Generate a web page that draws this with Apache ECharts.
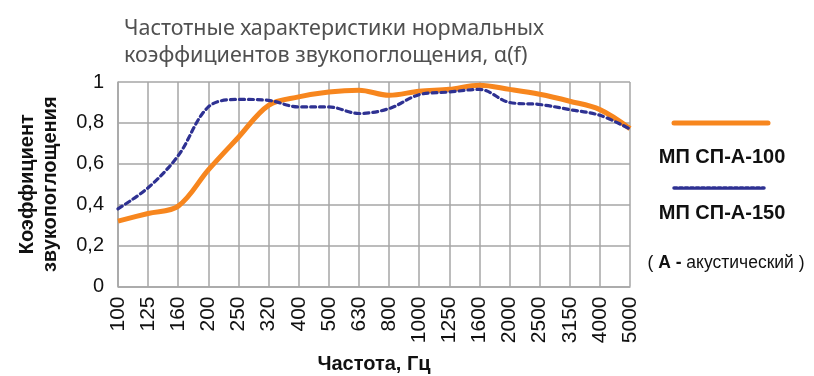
<!DOCTYPE html>
<html>
<head>
<meta charset="utf-8">
<script src="https://cdn.jsdelivr.net/npm/echarts@6/dist/echarts.min.js"></script>
<style>
  html, body { margin: 0; padding: 0; background: #fff; }
  #chart { width: 814px; height: 376px; }
</style>
</head>
<body>
<div id="chart"></div>
<script>
// Frequency bands, Hz
const frequencies = ['100', '125', '160', '200', '250', '320', '400', '500', '630',
  '800', '1000', '1250', '1600', '2000', '2500', '3150', '4000', '5000'];

// Normal sound absorption coefficients
const mpSpA100 = [0.32, 0.357, 0.393, 0.57, 0.73, 0.886, 0.927, 0.951, 0.96,
  0.935, 0.955, 0.964, 0.984, 0.964, 0.94, 0.906, 0.865, 0.772];
const mpSpA150 = [0.38, 0.483, 0.64, 0.878, 0.915, 0.91, 0.878, 0.878, 0.846,
  0.87, 0.938, 0.951, 0.964, 0.9, 0.89, 0.865, 0.837, 0.77];

const yTicks = [0, 0.2, 0.4, 0.6, 0.8, 1];

const ORANGE = '#F7861E';
const NAVY = '#2E3192';
const GRID = '#A6A6A6';
const LABEL_FONT = '"Liberation Sans", Arial, sans-serif';

const chart = echarts.init(document.getElementById('chart'));
chart.setOption({
  animation: false,
  title: {
    text: 'Частотные характеристики нормальных\nкоэффициентов звукопоглощения, α(f)',
    left: 119,
    top: 10,
    textStyle: {
      fontFamily: '"Noto Sans", sans-serif',
      fontSize: 21.5,
      fontWeight: 'normal',
      color: '#505050',
      lineHeight: 27
    }
  },
  grid: {
    left: 118, right: 184, top: 82, bottom: 89.5,
    containLabel: false,
    outerBoundsMode: 'none'
  },
  xAxis: {
    type: 'category',
    data: frequencies,
    boundaryGap: false,
    name: 'Частота, Гц',
    nameLocation: 'middle',
    nameGap: 68,
    nameTextStyle: { fontFamily: LABEL_FONT, fontWeight: 'bold', fontSize: 20, color: '#111' },
    axisLine: { lineStyle: { color: GRID, width: 1.5 } },
    axisTick: { show: false },
    axisLabel: {
      rotate: 90,
      margin: 10,
      fontFamily: LABEL_FONT,
      fontSize: 21,
      color: '#111',
      interval: 0
    },
    splitLine: { show: true, lineStyle: { color: GRID, width: 1.5 } }
  },
  yAxis: {
    type: 'value',
    min: 0,
    max: 1,
    interval: 0.2,
    name: 'Коэффициент\nзвукопоглощения',
    nameLocation: 'middle',
    nameGap: 56,
    nameRotate: 90,
    nameTextStyle: { fontFamily: LABEL_FONT, fontWeight: 'bold', fontSize: 20, color: '#111', lineHeight: 23 },
    axisLine: { show: true, lineStyle: { color: GRID, width: 1.5 } },
    axisTick: { show: false },
    axisLabel: {
      margin: 14,
      fontFamily: LABEL_FONT,
      fontSize: 20,
      color: '#111',
      formatter: v => yTicks.includes(+v.toFixed(1)) ? String(+v.toFixed(1)).replace('.', ',') : ''
    },
    splitLine: { lineStyle: { color: GRID, width: 1.5 } }
  },
  series: [
    {
      name: 'МП СП-А-100',
      type: 'line',
      data: mpSpA100,
      smooth: 0.35,
      showSymbol: false,
      lineStyle: { color: ORANGE, width: 5 },
      z: 3
    },
    {
      name: 'МП СП-А-150',
      type: 'line',
      data: mpSpA150,
      smooth: 0.35,
      showSymbol: false,
      lineStyle: { color: NAVY, width: 3.2, type: [5, 4], cap: 'round' },
      z: 4
    }
  ],
  graphic: [
    { type: 'line', shape: { x1: 674, y1: 123, x2: 768, y2: 123 },
      style: { stroke: ORANGE, lineWidth: 5, lineCap: 'round' } },
    { type: 'text', x: 722, y: 157,
      style: { text: 'МП СП-А-100', font: 'bold 20px "Liberation Sans", Arial, sans-serif',
        fill: '#111', align: 'center', verticalAlign: 'middle' } },
    { type: 'line', shape: { x1: 674, y1: 188, x2: 764, y2: 188 },
      style: { stroke: NAVY, lineWidth: 3.5, lineDash: [3, 2.5], lineCap: 'round' } },
    { type: 'text', x: 722, y: 213,
      style: { text: 'МП СП-А-150', font: 'bold 20px "Liberation Sans", Arial, sans-serif',
        fill: '#111', align: 'center', verticalAlign: 'middle' } },
    { type: 'text', x: 726, y: 263,
      style: {
        text: '( {b|А -} акустический )',
        font: '17.5px "Liberation Sans", Arial, sans-serif',
        fill: '#111',
        align: 'center',
        verticalAlign: 'middle',
        rich: { b: { fontWeight: 'bold', fontSize: 17.5, fontFamily: LABEL_FONT, fill: '#111' } }
      } }
  ]
});
</script>
</body>
</html>
